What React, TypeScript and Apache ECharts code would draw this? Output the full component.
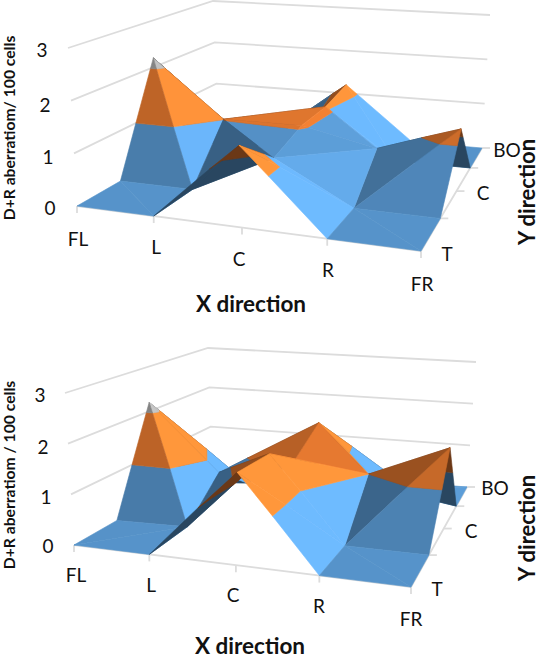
import React, { useEffect, useRef } from "react";
import * as echarts from "echarts";

const xLabels = ["FL", "L", "C", "R", "FR"];
const yLabels = ["T", "C", "BO"];
const zLabels = ["0", "1", "2", "3"];

// Values: rows run T -> BO, columns FL -> FR
const topT = [0, 0, 1.5, 0, 0];
const topTC = [0, 0, 0.8, 0, 0];
const topC = [2.2, 1.01, 1.03, 0.7, 1.25];
const topCB = [0, 0, 1.05, 0, 0];
const topBO = [0, 0, 1.2, 0, 0];

const botT = [0, 0, 1.75, 0, 0];
const botTC = [0, 0.03, 1.7, 0, 0];
const botC = [2.2, 0.75, 1.2, 1.0, 1.7];
const botCB = [0, 0.1, 1.65, 0.25, 0];
const botBO = [0, 0, 0.4, 0, 0];

type P = [number, number];
type Frame = { fl: P; fr: P; br: P; bl: P };

const topBase: Frame = { fl: [77, 206], fr: [421, 251], br: [482, 148], bl: [218, 125] };
const topTop: Frame = { fl: [68, 48], fr: [435, 81], br: [490, 15], bl: [213, 1] };
const botBase: Frame = { fl: [74, 545], fr: [411, 587], br: [467, 487], bl: [212, 466] };
const botTop: Frame = { fl: [65, 393], fr: [425, 420], br: [476, 362], bl: [208, 348] };
const uSteps = [0, 0.25, 0.517, 0.756, 1];

function homography(q: Frame) {
  const [x0, y0] = q.fl, [x1, y1] = q.fr, [x2, y2] = q.br, [x3, y3] = q.bl;
  const sx = x0 - x1 + x2 - x3, sy = y0 - y1 + y2 - y3;
  const dx1 = x1 - x2, dx2 = x3 - x2, dy1 = y1 - y2, dy2 = y3 - y2;
  const den = dx1 * dy2 - dx2 * dy1;
  const g = (sx * dy2 - dx2 * sy) / den, h = (dx1 * sy - sx * dy1) / den;
  const a = x1 - x0 + g * x1, b = x3 - x0 + h * x3, d = y1 - y0 + g * y1, e = y3 - y0 + h * y3;
  return (u: number, v: number): P => {
    const w = g * u + h * v + 1;
    return [(a * u + b * v + x0) / w, (d * u + e * v + y0) / w];
  };
}

function uParam(i: number) {
  const k = Math.min(3, Math.floor(i));
  return uSteps[k] + (uSteps[k + 1] - uSteps[k]) * (i - k);
}

function projector(base: Frame, top: Frame) {
  const h0 = homography(base), h3 = homography(top);
  return (i: number, j: number, z: number): P => {
    const a = h0(uParam(i), j / 4), b = h3(uParam(i), j / 4), t = z / 3;
    return [a[0] + (b[0] - a[0]) * t, a[1] + (b[1] - a[1]) * t];
  };
}

const bandColors = [[91, 155, 213], [237, 125, 49], [165, 165, 165]];
type V = [number, number, number];
type Facet = { pts: P[]; fill: string; depth: number };

function clipBand(tri: V[], lo: number, hi: number): V[] {
  const clip = (poly: V[], keep: (z: number) => boolean, lim: number) => {
    const out: V[] = [];
    poly.forEach((a, i) => {
      const b = poly[(i + 1) % poly.length];
      const ka = keep(a[2]), kb = keep(b[2]);
      if (ka) out.push(a);
      if (ka !== kb) {
        const t = (lim - a[2]) / (b[2] - a[2]);
        out.push([a[0] + (b[0] - a[0]) * t, a[1] + (b[1] - a[1]) * t, lim]);
      }
    });
    return out;
  };
  let p = clip(tri, (z) => z >= lo, lo);
  if (p.length) p = clip(p, (z) => z <= hi, hi);
  return p;
}

function buildFacets(rows: number[][], base: Frame, top: Frame): Facet[] {
  const proj = projector(base, top);
  const facets: Facet[] = [];
  const area = (a: P, b: P, c: P) => (b[0] - a[0]) * (c[1] - a[1]) - (b[1] - a[1]) * (c[0] - a[0]);
  for (let j = 0; j < 4; j++) {
    for (let i = 0; i < 4; i++) {
      const a: V = [i, j, rows[j][i]], b: V = [i + 1, j, rows[j][i + 1]];
      const c: V = [i + 1, j + 1, rows[j + 1][i + 1]], d: V = [i, j + 1, rows[j + 1][i]];
      const tris: V[][] = a[2] + c[2] > b[2] + d[2] ? [[a, b, c], [a, c, d]] : [[a, b, d], [b, c, d]];
      tris.forEach((t) => {
        const [p, q, r] = t;
        const ux = q[0] - p[0], uy = q[1] - p[1], uz = q[2] - p[2];
        const vx = r[0] - p[0], vy = r[1] - p[1], vz = r[2] - p[2];
        const det = ux * vy - uy * vx;
        const dzdu = (uz * vy - uy * vz) / det;
        const dzdv = (ux * vz - uz * vx) / det;
        const pp = proj(p[0], p[1], p[2]), pq = proj(q[0], q[1], q[2]), pr = proj(r[0], r[1], r[2]);
        const fp = proj(p[0], p[1], 0), fq = proj(q[0], q[1], 0), fr = proj(r[0], r[1], 0);
        const under = area(pp, pq, pr) * area(fp, fq, fr) < 0;
        const uShade = dzdu > 0 ? -0.35 * dzdu : -0.26 * dzdu;
        const lit = Math.max(0.65, Math.min(1.27, 1 + uShade - 0.07 * dzdv));
        const factor = under ? 0.45 : lit * 0.95;
        const depth = (fp[1] + fq[1] + fr[1]) / 3;
        [0, 1, 2].forEach((band) => {
          const poly = clipBand(t, band, band + 1);
          if (poly.length < 3) return;
          const col = bandColors[band].map((c0) => Math.min(255, Math.round(c0 * factor)));
          facets.push({
            pts: poly.map((v) => proj(v[0], v[1], v[2])),
            fill: `rgb(${col.join(",")})`,
            depth,
          });
        });
      });
    }
  }
  return facets.sort((x, y) => x.depth - y.depth);
}

function frameLines(base: Frame, top: Frame): P[][] {
  const proj = projector(base, top);
  const lines: P[][] = [];
  [1, 2, 3].forEach((z) => lines.push([proj(0, 0, z), proj(0, 4, z), proj(4, 4, z)]));
  lines.push([proj(0, 0, 0), proj(4, 0, 0), proj(4, 4, 0)]);
  for (let i = 0; i < 5; i++) {
    const p = proj(i, 0, 0);
    lines.push([p, [p[0], p[1] + 7]]);
  }
  for (let j = 1; j < 5; j++) {
    const p = proj(4, j, 0);
    lines.push([p, [p[0] + 8, p[1]]]);
  }
  return lines;
}

function surfaceSeries(rows: number[][], base: Frame, top: Frame) {
  const facets = buildFacets(rows, base, top);
  const lines = frameLines(base, top);
  return [
    {
      type: "custom",
      coordinateSystem: "cartesian2d",
      silent: true,
      clip: false,
      z: 1,
      data: lines.map((_, i) => [i]),
      renderItem: (_p: any, api: any) => ({
        type: "polyline",
        shape: { points: lines[api.value(0)].map((q) => api.coord(q)) },
        style: { stroke: "#dcdcdc", lineWidth: 1.8, fill: "none" },
      }),
    },
    {
      type: "custom",
      coordinateSystem: "cartesian2d",
      silent: true,
      clip: false,
      z: 2,
      data: facets.map((_, i) => [i]),
      renderItem: (_p: any, api: any) => {
        const f = facets[api.value(0)];
        return {
          type: "polygon",
          shape: { points: f.pts.map((q) => api.coord(q)) },
          style: { fill: f.fill, stroke: f.fill, lineWidth: 0.6 },
        };
      },
    },
  ];
}

const FONT = "Lato";
const text = (s: string, x: number, y: number, size: number, bold = false, rotation = 0) => ({
  type: "text",
  x,
  y,
  rotation,
  silent: true,
  style: {
    text: s,
    fill: "#111",
    fontFamily: FONT,
    fontSize: size,
    fontWeight: bold ? 700 : 400,
    align: "center",
    verticalAlign: "middle",
  },
});

const tickSize = 19;
const topXPos: P[] = [[78, 238], [156, 246], [239, 258], [328, 269], [422, 283]];
const topYPos: P[] = [[447, 253], [483, 192], [507, 149]];
const topZPos: P[] = [[50, 207], [48, 156], [45, 104], [42, 49]];
const botXPos: P[] = [[76, 574], [151, 584], [233, 594], [319, 605], [411, 618]];
const botYPos: P[] = [[437, 588], [471, 530], [495, 487]];
const botZPos: P[] = [[48, 545], [46, 496], [43, 446], [40, 394]];

function labels(xp: P[], yp: P[], zp: P[]) {
  return [
    ...xLabels.map((s, i) => text(s, xp[i][0], xp[i][1], tickSize)),
    ...yLabels.map((s, i) => text(s, yp[i][0], yp[i][1], tickSize)),
    ...zLabels.map((s, i) => text(s, zp[i][0], zp[i][1], tickSize)),
  ];
}

export default function App() {
  const ref = useRef<HTMLDivElement>(null);
  useEffect(() => {
    document.body.style.margin = "0";
    const chart = echarts.init(ref.current!, undefined, { renderer: "svg" });
    chart.setOption({
      animation: false,
      backgroundColor: "#fff",
      grid: { left: 0, top: 0, right: 0, bottom: 0 },
      xAxis: { type: "value", min: 0, max: 541, show: false },
      yAxis: { type: "value", min: 0, max: 660, inverse: true, show: false },
      series: [
        ...surfaceSeries([topT, topTC, topC, topCB, topBO], topBase, topTop),
        ...surfaceSeries([botT, botTC, botC, botCB, botBO], botBase, botTop),
      ],
      graphic: [
        ...labels(topXPos, topYPos, topZPos),
        ...labels(botXPos, botYPos, botZPos),
        text("D+R aberratiom/ 100 cells", 9, 128, 15.7, true, Math.PI / 2),
        text("D+R aberratiom / 100 cells", 9, 475, 15.7, true, Math.PI / 2),
        text("X direction", 251, 303, 22.5, true),
        text("X direction", 250, 645, 22.5, true),
        text("Y direction", 526, 192, 22, true, Math.PI / 2),
        text("Y direction", 526, 528, 22, true, Math.PI / 2),
      ],
    });
    return () => chart.dispose();
  }, []);
  return <div ref={ref} style={{ width: 541, height: 660 }} />;
}
